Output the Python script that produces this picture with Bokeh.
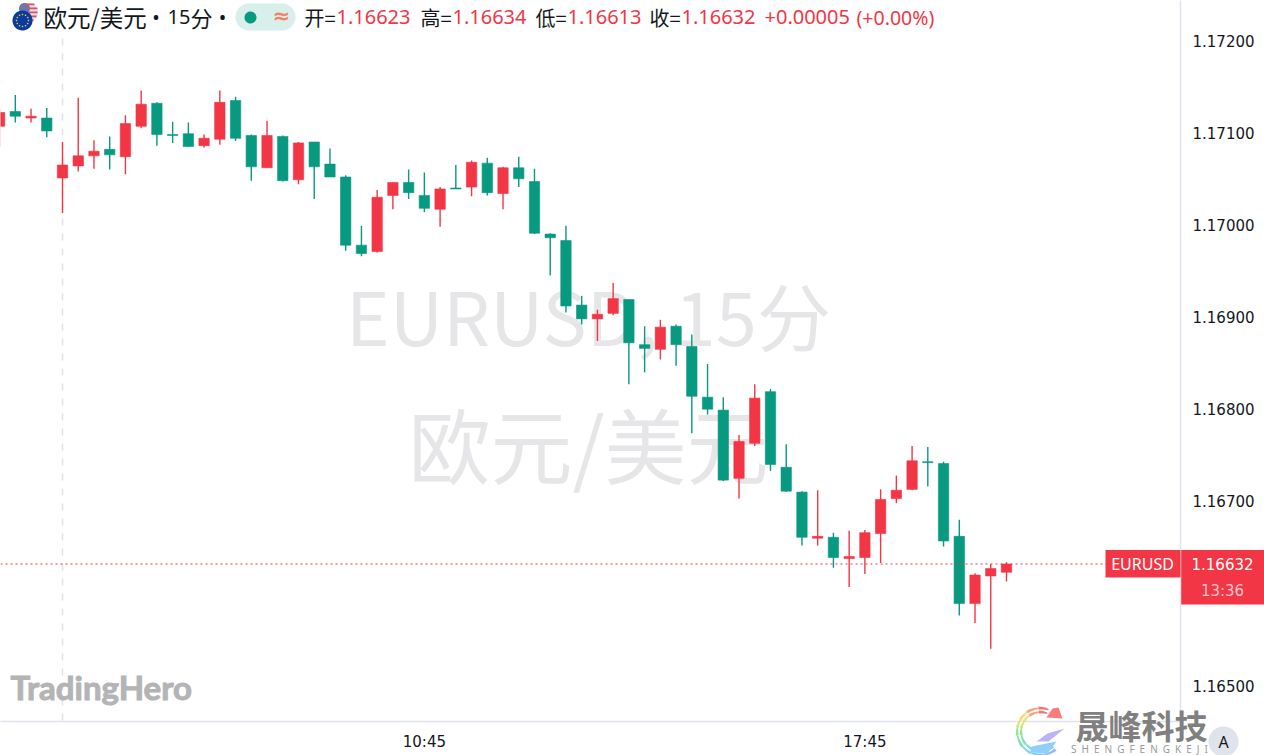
import numpy as np
from bokeh.plotting import figure
from bokeh.layouts import column
from bokeh.embed import file_html
from bokeh.resources import INLINE
from bokeh.models import Range1d, FixedTicker, Label, ColumnDataSource

# ---- data -----
bar_index = list(range(-4, 61))
open_ = [1.17107,1.17123,1.17116,1.17116,1.17051,1.17064,1.17075,1.17082,1.17074,1.17107,1.17132,1.17098,1.17099,1.17086,1.17093,1.17135,1.17097,
         1.17062,1.17096,1.17049,1.17090,1.17066,1.17052,1.16978,1.16971,1.17032,1.17046,1.17032,1.17017,1.17040,1.17041,1.17067,1.17034,1.17062,
         1.17047,1.16990,1.16983,1.16913,1.16898,1.16904,1.16919,1.16870,1.16865,1.16890,1.16868,1.16813,1.16799,1.16725,1.16763,1.16819,1.16737,
         1.16710,1.16660,1.16661,1.16638,1.16639,1.16665,1.16703,1.16713,1.16743,1.16741,1.16662,1.16589,1.16619,1.16623]
high = [1.17127,1.17141,1.17126,1.17127,1.17090,1.17138,1.17092,1.17096,1.17119,1.17146,1.17133,1.17112,1.17111,1.17098,1.17146,1.17139,1.17098,
        1.17113,1.17097,1.17090,1.17090,1.17083,1.17054,1.16999,1.17038,1.17046,1.17060,1.17057,1.17041,1.17065,1.17070,1.17073,1.17063,1.17074,
        1.17061,1.16991,1.16999,1.16923,1.16908,1.16937,1.16919,1.16890,1.16897,1.16892,1.16881,1.16849,1.16813,1.16772,1.16827,1.16822,1.16762,
        1.16711,1.16712,1.16666,1.16668,1.16669,1.16713,1.16728,1.16760,1.16759,1.16743,1.16680,1.16622,1.16632,1.16634]
low = [1.17085,1.17111,1.17111,1.17095,1.17013,1.17058,1.17061,1.17060,1.17055,1.17105,1.17086,1.17089,1.17085,1.17084,1.17087,1.17091,1.17048,
       1.17062,1.17047,1.17044,1.17028,1.17052,1.16972,1.16966,1.16970,1.17017,1.17028,1.17014,1.16998,1.17039,1.17031,1.17032,1.17017,1.17041,
       1.16990,1.16945,1.16905,1.16892,1.16874,1.16902,1.16827,1.16840,1.16854,1.16847,1.16774,1.16794,1.16722,1.16703,1.16760,1.16733,1.16710,
       1.16652,1.16652,1.16628,1.16607,1.16621,1.16633,1.16698,1.16712,1.16716,1.16651,1.16576,1.16568,1.16540,1.16613]
close = [1.17122,1.17118,1.17118,1.17102,1.17065,1.17075,1.17080,1.17076,1.17110,1.17131,1.17098,1.17097,1.17085,1.17094,1.17133,1.17094,1.17063,
         1.17097,1.17048,1.17089,1.17063,1.17052,1.16978,1.16969,1.17030,1.17046,1.17035,1.17018,1.17039,1.17039,1.17068,1.17035,1.17062,1.17050,
         1.16991,1.16986,1.16912,1.16898,1.16903,1.16920,1.16872,1.16866,1.16889,1.16870,1.16814,1.16800,1.16723,1.16765,1.16812,1.16740,1.16711,
         1.16661,1.16662,1.16639,1.16640,1.16666,1.16702,1.16712,1.16744,1.16742,1.16657,1.16589,1.16620,1.16627,1.16632]
price_ticks = [1.165, 1.167, 1.168, 1.169, 1.170, 1.171, 1.172]
price_tick_labels = ["1.16500", "1.16700", "1.16800", "1.16900", "1.17000", "1.17100", "1.17200"]
time_ticks = [23, 51]
time_labels = ["10:45", "17:45"]
last_price = 1.16632

RED, GREEN = "#F23645", "#089981"
BAR_PX, PRICE_PX = 15.733, 92.14

def X(px):
    return (px - 62) / BAR_PX
def Y(py):
    return 1.165 + (685.1 - py) * 0.001 / PRICE_PX

p = figure(frame_width=1180, frame_height=721, min_border_left=0, min_border_top=0, min_border_right=84, min_border_bottom=34,
           x_range=Range1d(X(0), X(1180)), y_range=Range1d(Y(721), Y(0)), y_axis_location="right",
           output_backend="svg", toolbar_location=None, background_fill_color="white", border_fill_color="white")
p.outline_line_color = None
p.grid.visible = False

# transparent layer over the whole page, for what lies across the axes
ov = figure(frame_width=1264, frame_height=755, min_border=0, x_range=Range1d(0, 1264), y_range=Range1d(755, 0),
            x_axis_location=None, y_axis_location=None,
            output_backend="svg", toolbar_location=None, background_fill_color=None, border_fill_color=None,
            styles={"position": "absolute", "left": "0px", "top": "0px", "width": "1264px", "height": "755px"})
ov.outline_line_color = None
ov.grid.visible = False

AX = "#e0e3eb"
for ax in (p.xaxis[0], p.yaxis[0]):
    ax.axis_line_color = AX
    ax.axis_line_width = 1.5
    ax.major_tick_line_color = None
    ax.minor_tick_line_color = None
    ax.major_label_text_color = "#131722"
    ax.major_label_text_font = "DejaVu Sans"
    ax.major_label_text_font_size = "15px"
p.xaxis[0].ticker = FixedTicker(ticks=time_ticks)
p.xaxis[0].major_label_overrides = dict(zip(time_ticks, time_labels))
p.xaxis[0].major_label_standoff = 5
p.yaxis[0].ticker = FixedTicker(ticks=price_ticks)
p.yaxis[0].major_label_overrides = dict(zip(price_ticks, price_tick_labels))
p.yaxis[0].major_label_standoff = 6

def lab(x, y, text, color="#131722", size=20, font="Noto Sans", align="left", style="normal", level="annotation", fig=None, outline=None):
    l = Label(x=x, y=y, x_units="canvas", y_units="canvas", text=text, text_color=color, text_font_size=f"{size}px",
              text_font=font, text_align=align, text_baseline="middle", text_font_style=style, level=level,
              text_outline_color=outline)
    (fig or ov).add_layout(l)
    return l

CJK = "Noto Sans CJK SC"
lab(588, 313, "EURUSD, 15分", "#e6e6e8", 74, CJK, "center", level="underlay", fig=p)
lab(588, 442, "欧元/美元", "#e6e6e8", 82, CJK, "center", level="underlay", fig=p)
lab(10, 686, "TradingHero", "#b4b4b6", 33, "Lato", "left", "bold", level="underlay", fig=p, outline="#b4b4b6")

# session break
p.segment(x0=[0], x1=[0], y0=[Y(38)], y1=[Y(721)], line_color=AX, line_width=1.5, line_dash="7 8", level="underlay")

# candles
colors = [RED if c >= o else GREEN for o, c in zip(open_, close)]
src = ColumnDataSource(dict(k=bar_index, o=open_, h=high, l=low, c=close, color=colors,
                            top=[max(a, b) for a, b in zip(open_, close)],
                            bot=[min(a, b) for a, b in zip(open_, close)]))
p.segment(x0="k", x1="k", y0="l", y1="h", source=src, line_color="color", line_width=1.4)
p.vbar(x="k", width=0.66, top="top", bottom="bot", source=src, fill_color="color", line_color="color", line_width=0.6)

# last price line
p.segment(x0=[X(0)], x1=[X(1106)], y0=[last_price], y1=[last_price], line_color=RED, line_width=1.2, line_dash="2 3")

# shapes on the overlay
def poly(px, py, color):
    ov.patch(list(map(float, px)), list(map(float, py)), fill_color=color, line_color=None)
def disc(cx, cy, r, color, a0=0, a1=2*np.pi):
    t = np.linspace(a0, a1, 48)
    poly(cx + r*np.cos(t), cy + r*np.sin(t), color)

# price boxes
poly([1105, 1180, 1180, 1105], [549.5, 549.5, 577, 577], RED)
poly([1180.7, 1264, 1264, 1180.7], [549.5, 549.5, 604, 604], RED)
lab(1142, 563, "EURUSD", "white", 16, "Noto Sans", "center")
lab(1222, 563, "1.16632", "white", 15, "DejaVu Sans", "center")
lab(1222, 590, "13:36", "#fbc4c9", 15, "DejaVu Sans", "center")

# header
disc(28, 12, 9.5, "#e9dfe2")
disc(24, 8, 5.5, "#6a78a8")
for yy, x0, x1 in ((3, 25, 34), (7, 28, 37), (11, 28, 37), (15, 20, 36), (19, 24, 33)):
    poly([x0, x1, x1, x0], [yy, yy, yy+1.8, yy+1.8], "#d8506c")
disc(22, 20, 10, "#0b3a9e")
for a in np.arange(0, 2*np.pi, np.pi/6):
    disc(22 + 6*np.cos(a), 20 + 6*np.sin(a), 0.8, "#d7c93a")

TY = 16.5
lab(43, TY, "欧元/美元", "#131722", 23.5, CJK)
lab(155.5, TY, "•", "#131722", 20, "Noto Sans", "center")
lab(167, TY, "15", "#131722", 20, "Noto Sans")
lab(190, TY, "分", "#131722", 22, CJK)
lab(222, TY, "•", "#131722", 20, "Noto Sans", "center")
disc(248.5, 16.5, 13.5, "#d9efeb", np.pi/2, 3*np.pi/2)
disc(281.5, 16.5, 13.5, "#d9efeb", -np.pi/2, np.pi/2)
poly([248, 282, 282, 248], [3, 3, 30, 30], "#d9efeb")
disc(250, 17, 6, GREEN)
lab(281, 15, "≈", "#f7825f", 21, "DejaVu Sans", "center", "bold")

for x0, name, x1, val in [(304, "开=", 336, "1.16623"), (420, "高=", 452, "1.16634"),
                          (535, "低=", 567, "1.16613"), (649, "收=", 681, "1.16632")]:
    lab(x0, TY, name, "#131722", 20, CJK)
    lab(x1, TY, val, RED, 20, "Noto Sans")
lab(764, TY, "+0.00005", RED, 20, "Noto Sans")
lab(856, TY, "(+0.00%)", RED, 19.5, "Noto Sans")

# logo
cx, cy = 1040, 731
def arc(r0, r1, a0, a1, color):
    t = np.radians(np.linspace(a0, a1, 18))
    r = np.linspace(r0, r1, 18)
    poly(np.r_[cx + r*np.cos(t), cx + (r[::-1]-np.linspace(1.5, 3, 18))*np.cos(t[::-1])],
         np.r_[cy + r*np.sin(t), cy + (r[::-1]-np.linspace(1.5, 3, 18))*np.sin(t[::-1])], color)
for a0, a1, c in [(-95, -70, "#f87171"), (-125, -95, "#f8a07a"), (-150, -125, "#f5dc76"),
                  (-170, -150, "#d2e87a"), (170, 190, "#9be38b"), (140, 170, "#86e0b4"), (115, 140, "#7fd9e6"),
                  (85, 115, "#7cc9f5"), (50, 85, "#8fc1f7")]:
    arc(25, 24, a0, a1, c)
    arc(21, 20, a0, a1, c)
poly([1047, 1064, 1048, 1036], [733, 728, 741, 741], "#b9b4f3")
poly([1031, 1056, 1047, 1030], [746, 741, 753, 752], "#8fd0fa")
poly([1052, 1058, 1062, 1046], [708, 707, 718, 717], "#f77d7d")

lab(1141, 724, "晟峰科技", "#808080", 33, CJK, "center", "bold")
lab(1139, 748.5, "S\u2002H\u2002E\u2002N\u2002G\u2002F\u2002E\u2002N\u2002G\u2002K\u2002E\u2002J\u2002I", "#9a9a9a", 10, "Noto Sans", "center")
disc(1223, 741, 15, AX)
lab(1223, 741, "A", "#131722", 16, "Noto Sans", "center")

root = column(p, ov)
open("out.html", "w").write(file_html(root, INLINE))
